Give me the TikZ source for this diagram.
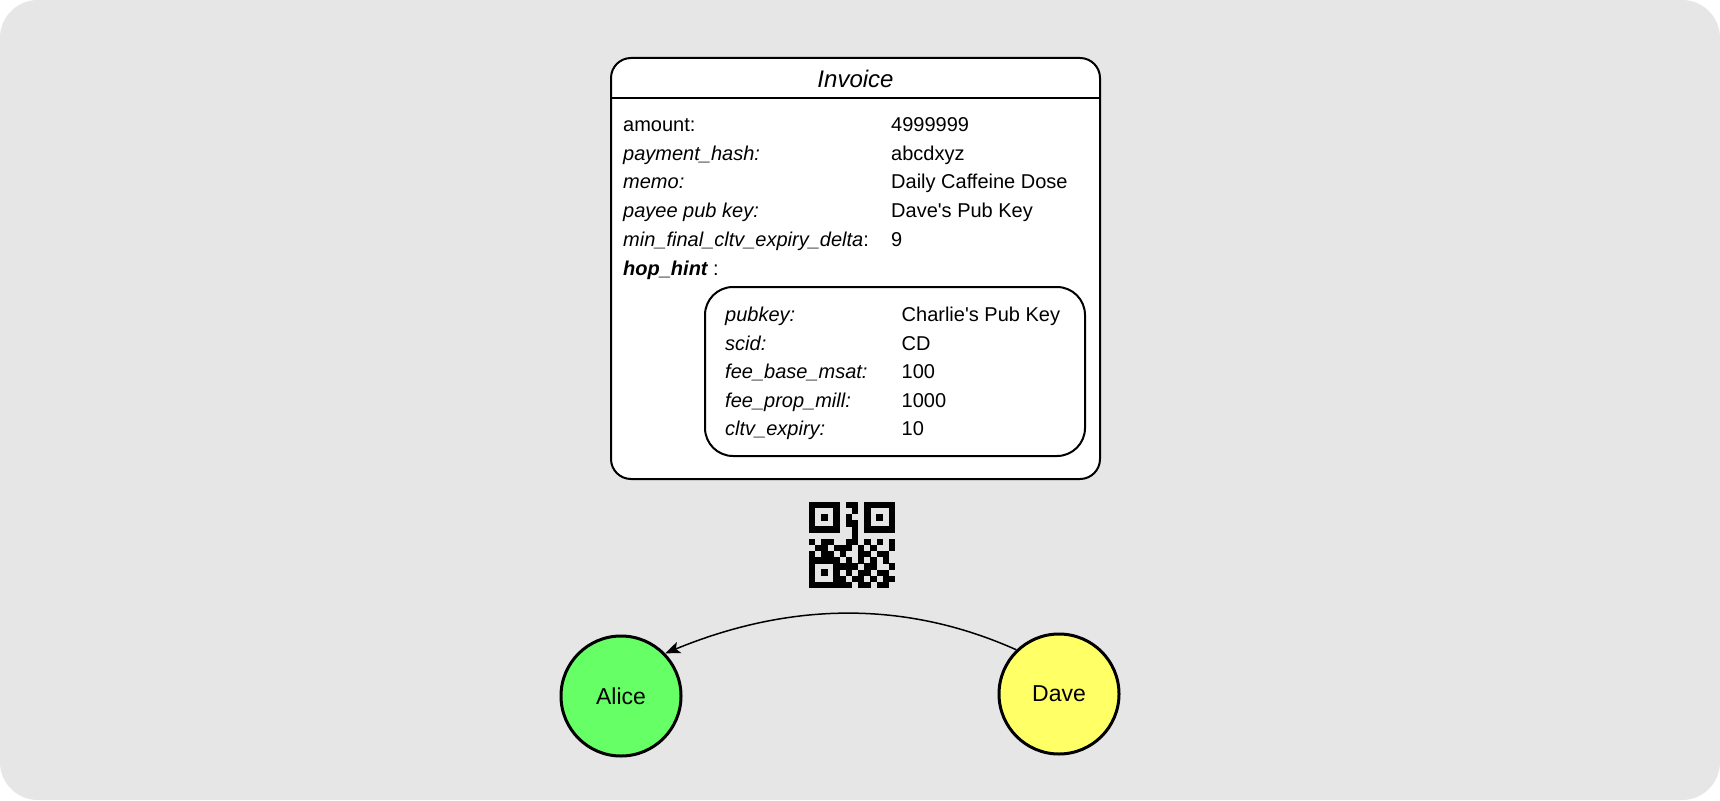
\documentclass[tikz,border=0pt]{standalone}
\usepackage{fontspec}
\setmainfont{Liberation Sans}
\usetikzlibrary{arrows.meta}
\definecolor{bggray}{HTML}{E6E6E6}
\definecolor{alicegreen}{HTML}{66FF66}
\definecolor{daveyellow}{HTML}{FFFF66}
\begin{document}
\begin{tikzpicture}[x=1pt,y=-1pt,
  lbl/.style={anchor=base west, inner sep=0pt, font=\fontsize{20}{24}\selectfont},
  peer/.style={circle, draw, line width=3pt, minimum size=120pt, inner sep=0pt, font=\fontsize{23}{28}\selectfont},
  qrcell/.style={fill=black}]
\useasboundingbox (0,0) rectangle (1720,800);
\fill[white] (0,0) rectangle (1720,800);
\fill[bggray, rounded corners=38pt] (0,0) rectangle (1720,800);

% invoice box
\node[draw, line width=2pt, rounded corners=20pt, fill=white, minimum width=489pt, minimum height=421pt, inner sep=0pt] (invoice) at (855.5,268.5) {};
\coordinate (hl) at (0,98.3);
\draw[line width=2pt] (invoice.west |- hl) -- (invoice.east |- hl);
\node[anchor=base, inner sep=0pt, font=\fontsize{24}{28}\selectfont\itshape] (title) at (855.5,87.5) {Invoice};

\node[lbl] (k1) at (623,131.5) {amount:};
\node[lbl] (v1) at (891,131.5) {4999999};
\node[lbl] (k2) at (623,160.2) {\itshape payment\_hash:};
\node[lbl] (v2) at (891,160.2) {abcdxyz};
\node[lbl] (k3) at (623,188.9) {\itshape memo:};
\node[lbl] (v3) at (891,188.9) {Daily Caffeine Dose};
\node[lbl] (k4) at (623,217.6) {\itshape payee pub key:};
\node[lbl] (v4) at (891,217.6) {Dave\textquotesingle s Pub Key};
\node[lbl] (k5) at (623,246.3) {{\itshape min\_final\_cltv\_expiry\_delta}:};
\node[lbl] (v5) at (891,246.3) {9};
\node[lbl] (k6) at (623,275) {{\bfseries\itshape hop\_hint} :};

% hop hint box
\node[draw, line width=2pt, rounded corners=28pt, minimum width=380pt, minimum height=169pt, inner sep=0pt] (hint) at (895,371.5) {};
\node[lbl] (h1) at (725,321.5) {\itshape pubkey:};
\node[lbl] (g1) at (901.5,321.5) {Charlie\textquotesingle s Pub Key};
\node[lbl] (h2) at (725,350) {\itshape scid:};
\node[lbl] (g2) at (901.5,350) {CD};
\node[lbl] (h3) at (725,378.5) {\itshape fee\_base\_msat:};
\node[lbl] (g3) at (901.5,378.5) {100};
\node[lbl] (h4) at (725,407) {\itshape fee\_prop\_mill:};
\node[lbl] (g4) at (901.5,407) {1000};
\node[lbl] (h5) at (725,435.5) {\itshape cltv\_expiry:};
\node[lbl] (g5) at (901.5,435.5) {10};

% QR code
\foreach \fx/\fy in {809/502, 864.26/502, 809/557.26} {
  \fill[black] (\fx,\fy) rectangle ++(30.7,30.7);
  \fill[bggray] (\fx+6.4,\fy+6.4) rectangle ++(17.9,17.9);
  \fill[black] (\fx+11.5,\fy+11.5) rectangle ++(7.7,7.7);
}
\foreach \c/\r in {6/0,7/0,7/1,6/2,6/3,7/3,7/4,7/5,
  0/6,2/6,3/6,6/6,7/6,9/6,11/6,13/6,
  1/7,2/7,4/7,5/7,6/7,8/7,10/7,13/7,
  0/8,2/8,3/8,5/8,8/8,9/8,11/8,12/8,
  6/9,8/9,10/9,12/9,
  5/10,6/10,7/10,9/10,10/10,13/10,
  6/11,8/11,9/11,11/11,12/11,
  5/12,7/12,8/12,10/12,12/12,13/12,
  5/13,6/13,8/13,9/13,11/13,12/13}
  \fill[qrcell] (809+\c*6.14,502+\r*6.14) rectangle ++(6.3,6.3);

% peers
\node[peer, fill=alicegreen] (alice) at (621,696) {Alice};
\node[peer, fill=daveyellow] (dave) at (1059,694) {Dave};
\draw[line width=1.5pt, -{Stealth[length=15pt,width=12pt,inset=3.5pt]}] (dave.134) .. controls (905,600) and (790,602) .. (alice.44);
\end{tikzpicture}
\end{document}
